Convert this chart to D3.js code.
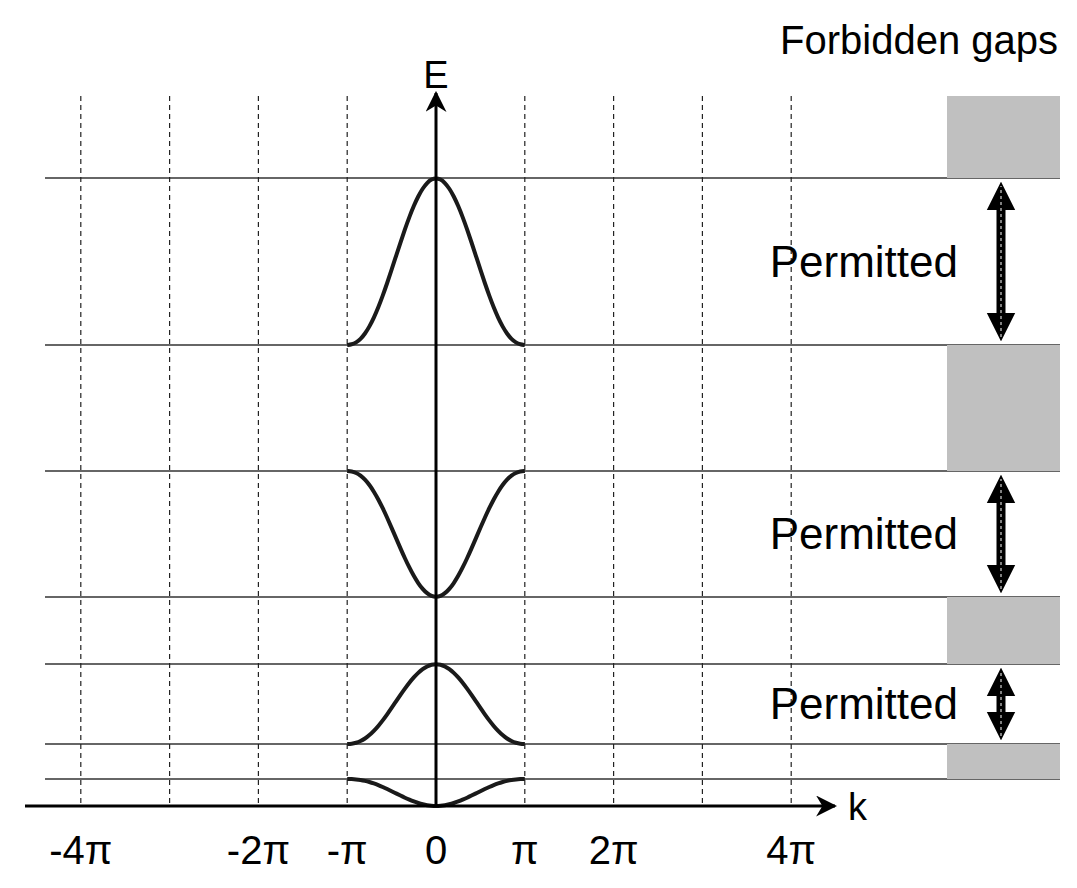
<!DOCTYPE html><html><head><meta charset="utf-8"><script src="https://cdn.jsdelivr.net/npm/d3@7"></script>
<style>body{margin:0;background:#fff}text{font-family:Arial,"Liberation Sans",sans-serif}</style></head><body><svg id="c" width="1077" height="888"></svg><script>
const kTickVals=[-4,-2,-1,0,1,2,4];
const kTickLabels=["-4π","-2π","-π","0","π","2π","4π"];
const dashedK=[-4,-3,-2,-1,1,2,3,4];
const levelE=[0.27,0.62,1.42,2.09,3.35,4.61,6.28];
// bands: energy at k=0 and at k=±π
const bandCenter=[0.0,1.42,2.09,6.28];
const bandEdge=[0.27,0.62,3.35,4.61];
const gaps=[[0.27,0.62],[1.42,2.09],[3.35,4.61],[6.28,7.1]];
const permitted=[[0.62,1.42],[2.09,3.35],[4.61,6.28]];
const svg=d3.select("#c");
const x=d3.scaleLinear().domain([0,1]).range([436,524.8]);
const y=d3.scaleLinear().domain([0,1]).range([806,706]);
svg.selectAll(".lv").data(levelE).enter().append("line").attr("x1",45).attr("x2",1060).attr("y1",d=>y(d)).attr("y2",d=>y(d)).attr("stroke","#333").attr("stroke-width",1.3);
svg.selectAll(".gp").data(gaps).enter().append("rect").attr("x",947).attr("width",113).attr("y",d=>y(d[1])).attr("height",d=>y(d[0])-y(d[1])).attr("fill","#c0c0c0");
svg.selectAll(".dv").data(dashedK).enter().append("line").attr("x1",d=>x(d)).attr("x2",d=>x(d)).attr("y1",y(7.1)).attr("y2",y(0)).attr("stroke","#222").attr("stroke-width",1.2).attr("stroke-dasharray","5,4");
const line=d3.line().x(d=>x(d[0])).y(d=>y(d[1])).curve(d3.curveBasis);
bandCenter.forEach((c,i)=>{const e=bandEdge[i];const pts=d3.range(-1,1.0001,0.05).map(k=>{const t=(1+Math.cos(Math.PI*k))/2;return [k,e+(c-e)*Math.pow(t,1.15)];});
svg.append("path").attr("d",line(pts)).attr("fill","none").attr("stroke","#1a1a1a").attr("stroke-width",4);});
const defs=svg.append("defs");
defs.append("marker").attr("id","ah").attr("viewBox","0 0 10 10").attr("refX",9).attr("refY",5).attr("markerWidth",7).attr("markerHeight",7).attr("orient","auto").append("path").attr("d","M0,0L10,5L0,10L3,5Z").attr("fill","#000");
svg.append("line").attr("x1",25).attr("x2",835).attr("y1",y(0)).attr("y2",y(0)).attr("stroke","#000").attr("stroke-width",3).attr("marker-end","url(#ah)");
svg.append("line").attr("x1",x(0)).attr("x2",x(0)).attr("y1",y(0)).attr("y2",93).attr("stroke","#000").attr("stroke-width",3).attr("marker-end","url(#ah)");
svg.append("text").attr("x",436).attr("y",88).attr("text-anchor","middle").attr("font-size",38).text("E");
svg.append("text").attr("x",848).attr("y",820).attr("font-size",38).text("k");
svg.selectAll(".tl").data(kTickVals).enter().append("text").attr("x",d=>x(d)).attr("y",864).attr("text-anchor","middle").attr("font-size",40).text((d,i)=>kTickLabels[i]);
svg.append("text").attr("x",1058).attr("y",54).attr("text-anchor","end").attr("font-size",40).text("Forbidden gaps");
const am=defs.append("marker").attr("id","pa").attr("viewBox","0 0 10 10").attr("refX",5).attr("refY",5).attr("markerWidth",3.2).attr("markerHeight",3.6).attr("orient","auto-start-reverse");
am.append("path").attr("d","M0,0L10,5L0,10Z").attr("fill","#000");
permitted.forEach(p=>{const y1=y(p[0])-4,y2=y(p[1])+4;const mid=(y1+y2)/2;
svg.append("line").attr("x1",1001).attr("x2",1001).attr("y1",y1-14).attr("y2",y2+14).attr("stroke","#000").attr("stroke-width",9).attr("marker-start","url(#pa)").attr("marker-end","url(#pa)");
svg.append("line").attr("x1",1001).attr("x2",1001).attr("y1",y1-4).attr("y2",y2+4).attr("stroke","#fff").attr("stroke-width",1).attr("stroke-dasharray","3,3");
svg.append("text").attr("x",958).attr("y",mid+15).attr("text-anchor","end").attr("font-size",44).text("Permitted");});
</script></body></html>
